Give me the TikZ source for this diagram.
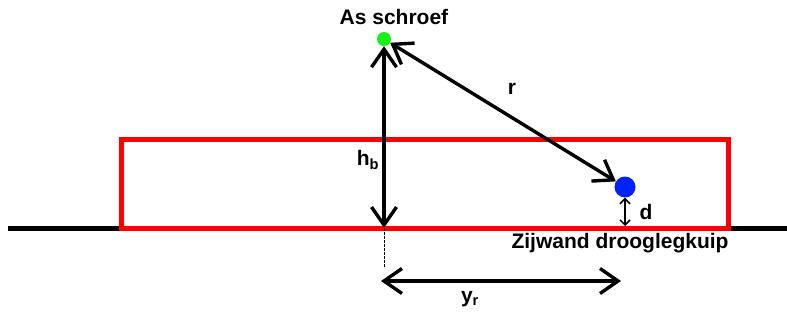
\documentclass[tikz,border=0pt]{standalone}
\usepackage{fontspec}
\setmainfont{Liberation Sans}
\definecolor{schroefgroen}{HTML}{19F019}
\definecolor{bladblauw}{HTML}{0022FF}
\usetikzlibrary{arrows.meta}

\tikzset{
  lbl/.style={font=\fontsize{21}{21}\selectfont\bfseries, inner sep=0pt},
  maat/.style={line width=3.4pt, {Straight Barb[length=18pt,width=25pt]}-{Straight Barb[length=18pt,width=25pt]}},
  kleinmaat/.style={line width=1.5pt, {Straight Barb[length=5pt,width=10pt]}-{Straight Barb[length=5pt,width=10pt]}},
  punt/.style={circle, inner sep=0pt, draw=none}
}

\begin{document}
\begin{tikzpicture}[x=1pt,y=-1pt]
  \useasboundingbox (0,0) rectangle (787,322);

  % grond en drooglegkuip
  \draw[line width=5pt] (8,228) -- (787,228);
  \draw[red, line width=5pt, fill=white] (121,228) -- (121,139) -- (728,139) -- (728,228) -- cycle;

  % punten
  \node[punt, fill=schroefgroen, minimum size=14pt] (as) at (384,39) {};
  \node[punt, fill=bladblauw, minimum size=21pt] (blad) at (625,187) {};
  \coordinate (voet) at (384,228);
  \coordinate (voetlaag) at (384,268);
  \coordinate (bodem) at (625,226);
  \coordinate (yl) at (381,281);
  \coordinate (yr) at (621,281);

  % maten
  \draw[maat] (as) -- (voet);
  \draw[maat] (as) -- (blad);
  \draw[kleinmaat] (blad) -- (bodem);
  \draw[line width=1pt, dash pattern=on 2.5pt off 1.5pt] (voet) -- (voetlaag);
  \draw[maat] (yl) -- (yr);

  % teksten
  \node[lbl] (asl) at (394,17) {As schroef};
  \node[lbl] (rl) at (512,89) {r};
  \node[lbl] (hl) at (368,160) {h\textsubscript{b}};
  \node[lbl] (dl) at (646,212) {d};
  \node[lbl] (kuipl) at (620,243) {Zijwand drooglegkuip};
  \node[lbl] (yrl) at (470,299) {y\textsubscript{r}};
\end{tikzpicture}
\end{document}
